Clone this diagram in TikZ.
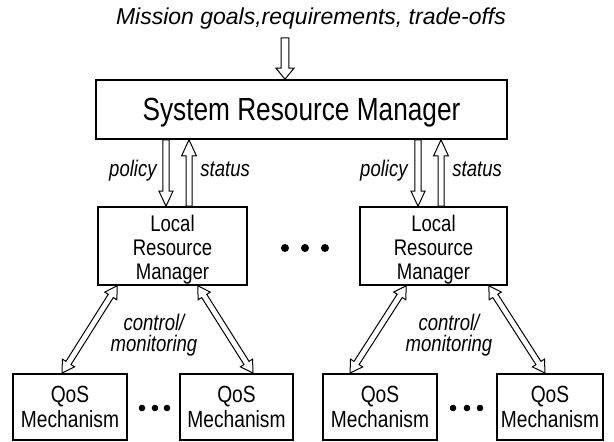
\documentclass[tikz,border=0pt]{standalone}
\usepackage{fontspec}
\setmainfont{Liberation Sans}
\newfontfamily\narrowsf{Liberation Sans}[FakeStretch=0.82]
\usetikzlibrary{calc}

% hollow block arrow, head at the second point
\newcommand{\blockarrow}[5]
{
\def\sw{#3} % half width of the shaft
\def\hw{#4} % half width of the head
\def\hl{#5} % length of the head
\draw[arrowline] let \p1=(#1), \p2=(#2),
  \n1={atan2(\y2-\y1,\x2-\x1)}, \n2={veclen(\x2-\x1,\y2-\y1)} in
  [shift={(\p1)}, rotate=\n1]
  (0pt,\sw) -- ({\n2-\hl},\sw) -- ({\n2-\hl},\hw) -- ({\n2+0pt},0pt)
  -- ({\n2-\hl},-\hw) -- ({\n2-\hl},-\sw) -- (0pt,-\sw) -- cycle;
}

% hollow block arrow with a head at both ends
\newcommand{\dblarrow}[5]
{
\def\sw{#3} % half width of the shaft
\def\hw{#4} % half width of the heads
\def\hl{#5} % length of the heads
\draw[arrowline] let \p1=(#1), \p2=(#2),
  \n1={atan2(\y2-\y1,\x2-\x1)}, \n2={veclen(\x2-\x1,\y2-\y1)} in
  [shift={(\p1)}, rotate=\n1]
  (0pt,0pt) -- (\hl,\hw) -- (\hl,\sw) -- ({\n2-\hl},\sw) -- ({\n2-\hl},\hw)
  -- ({\n2+0pt},0pt) -- ({\n2-\hl},-\hw) -- ({\n2-\hl},-\sw) -- (\hl,-\sw)
  -- (\hl,-\hw) -- cycle;
}

\begin{document}
\begin{tikzpicture}[x=0.5pt, y=-0.5pt,
  box/.style={draw, line width=0.8pt, inner sep=0pt, align=center},
  lrmbox/.style={box, minimum height=39pt, text height=36pt, font=\narrowsf\fontsize{11.3}{12}\selectfont},
  qosbox/.style={box, minimum height=33pt, font=\narrowsf\fontsize{11.7}{12.5}\selectfont},
  tag/.style={font=\narrowsf\itshape\fontsize{11.3}{10}\selectfont, inner sep=0pt},
  arrowline/.style={line width=0.5pt, fill=white}]

\useasboundingbox (0,0) rectangle (614,442);

% mission input
\node[font=\itshape\fontsize{11.5}{13}\selectfont, anchor=base, inner sep=0pt]
  (goals) at (311,25) {Mission goals,requirements, trade-offs};
\coordinate (in) at (285,38);

% system level
\node[box, minimum width=205.5pt, minimum height=29.5pt, text depth=0pt,
  font=\narrowsf\fontsize{16}{18}\selectfont] (srm) at (301.5,109.5) {System Resource Manager};
\blockarrow{in}{in |- srm.north}{1.9pt}{4.5pt}{5.5pt}

% local managers
\node[lrmbox, minimum width=74.5pt] (lrmA) at (172.5,246) {Local\\Resource\\Manager};
\node[lrmbox, minimum width=73.5pt] (lrmB) at (433.5,246) {Local\\Resource\\Manager};
\foreach \x in {285,305,325}
  \fill (\x,248) circle (4);

\coordinate (polA) at ($(lrmA.north)+(-6.5,0)$);
\coordinate (staA) at ($(lrmA.north)+(16.5,0)$);
\coordinate (polB) at ($(lrmB.north)+(-15.5,0)$);
\coordinate (staB) at ($(lrmB.north)+(7.5,0)$);
\blockarrow{polA |- srm.south}{polA}{1.6pt}{3.5pt}{7.5pt}
\blockarrow{staA}{staA |- srm.south}{1.5pt}{3.7pt}{8pt}
\blockarrow{polB |- srm.south}{polB}{1.6pt}{3.5pt}{7.5pt}
\blockarrow{staB}{staB |- srm.south}{1.5pt}{3.7pt}{8pt}

\node[tag, anchor=base east] (polAtag) at (157,177) {policy};
\node[tag, anchor=base west] (staAtag) at (200,177) {status};
\node[tag, anchor=base east] (polBtag) at (408,177) {policy};
\node[tag, anchor=base west] (staBtag) at (452,177) {status};

% QoS mechanisms
\node[qosbox, minimum width=57pt] (qos1) at (70,407) {QoS\\Mechanism};
\node[qosbox, minimum width=56.5pt] (qos2) at (236.5,407) {QoS\\Mechanism};
\node[qosbox, minimum width=57pt] (qos3) at (380,407) {QoS\\Mechanism};
\node[qosbox, minimum width=53pt] (qos4) at (550,407) {QoS\\Mechanism};
\foreach \x in {142,155,167,453,467,480}
  \fill (\x,408) circle (3.3);

\dblarrow{$(lrmA.south west)+(20,0)$}{$(qos1.north)+(-8,0)$}{1.5pt}{3.6pt}{6pt}
\dblarrow{$(lrmA.south east)+(-50,0)$}{$(qos2.north)+(16.5,0)$}{1.5pt}{3.6pt}{6pt}
\dblarrow{$(lrmB.south west)+(47,0)$}{$(qos3.north)+(-30,0)$}{1.5pt}{3.6pt}{6pt}
\dblarrow{$(lrmB.south east)+(-19,0)$}{$(qos4.north)+(-5,0)$}{1.5pt}{3.6pt}{6pt}

\node[tag, align=center, anchor=base] (ctlA) at (154,351) {control/\\monitoring};
\node[tag, align=center, anchor=base] (ctlB) at (449,351) {control/\\monitoring};
\end{tikzpicture}
\end{document}
